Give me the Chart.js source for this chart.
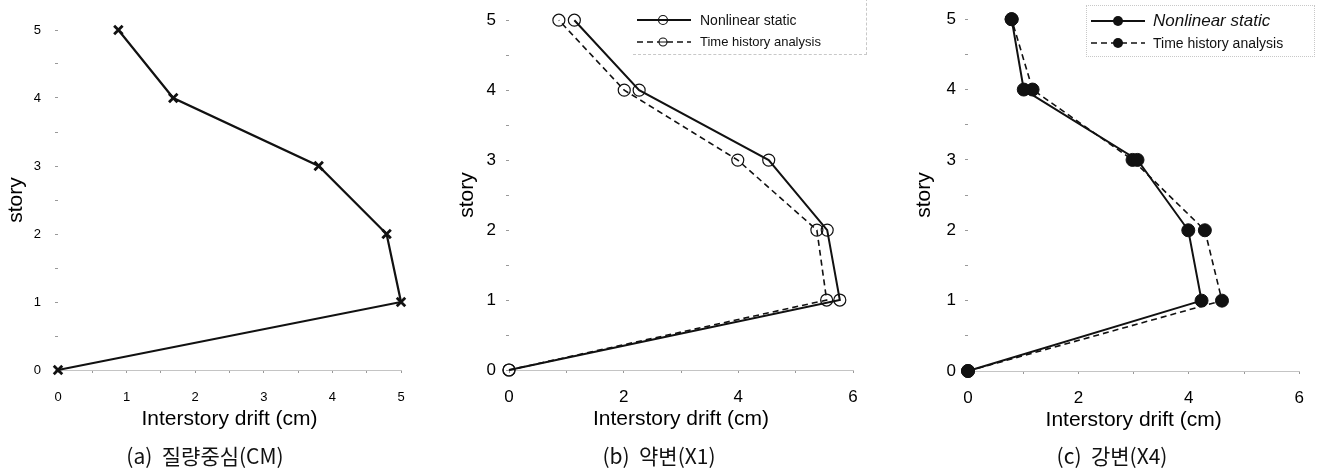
<!DOCTYPE html>
<html><head><meta charset="utf-8">
<script src="https://cdn.jsdelivr.net/npm/chart.js@4.4.1/dist/chart.umd.min.js"></script>
<style>
html,body{margin:0;padding:0;background:#fff;}
#wrap{position:relative;width:1318px;height:471px;overflow:hidden;font-family:'Liberation Sans',Arial,sans-serif;color:#111;}
canvas{position:absolute;top:0;}
.cap{position:absolute;top:440px;font-family:'Noto Sans CJK KR',sans-serif;font-size:21px;line-height:30px;white-space:pre;transform:translateX(-50%);color:#111;}
.leg{position:absolute;box-sizing:border-box;}
.row{position:absolute;left:0;height:20px;white-space:nowrap;}
.row svg{position:absolute;left:0;top:0;}
.row span{position:absolute;top:0;line-height:20px;color:#111;}
</style>
</head><body>
<div id="wrap">
  <canvas id="ca" width="440" height="471" style="left:0px"></canvas>
  <canvas id="cb" width="440" height="471" style="left:440px"></canvas>
  <canvas id="cc" width="440" height="471" style="left:878px"></canvas>

  <div class="leg" style="left:633px;top:-2px;width:234px;height:57px;border:1px dashed #c8c8c8;border-top:none;border-left:none;">
    <div class="row" style="top:12px;width:234px;">
      <svg width="60" height="20"><line x1="4" y1="10" x2="58" y2="10" stroke="#111" stroke-width="2"/><circle cx="30" cy="10" r="4.5" fill="none" stroke="#111" stroke-width="1.2"/></svg>
      <span style="left:67px;font-size:14px;">Nonlinear static</span>
    </div>
    <div class="row" style="top:34px;width:234px;">
      <svg width="60" height="20"><line x1="4" y1="10" x2="58" y2="10" stroke="#111" stroke-width="1.6" stroke-dasharray="6,4"/><circle cx="30" cy="10" r="4" fill="#fff" stroke="#111" stroke-width="1.1"/><line x1="26" y1="10" x2="34" y2="10" stroke="#111" stroke-width="1"/></svg>
      <span style="left:67px;font-size:13px;">Time history analysis</span>
    </div>
  </div>

  <div class="leg" style="left:1086px;top:5px;width:229px;height:52px;border:1px dotted #c8c8c8;">
    <div class="row" style="top:5px;width:229px;">
      <svg width="60" height="20"><line x1="4" y1="10" x2="58" y2="10" stroke="#111" stroke-width="2"/><circle cx="31" cy="10" r="5" fill="#111"/></svg>
      <span style="left:66px;font-size:17px;font-style:italic;">Nonlinear static</span>
    </div>
    <div class="row" style="top:27px;width:229px;">
      <svg width="60" height="20"><line x1="4" y1="10" x2="58" y2="10" stroke="#111" stroke-width="1.6" stroke-dasharray="6,4"/><circle cx="31" cy="10" r="5" fill="#111"/></svg>
      <span style="left:66px;font-size:14px;">Time history analysis</span>
    </div>
  </div>

  <div class="cap" style="left:205px;">(a)  질량중심(CM)</div>
  <div class="cap" style="left:659px;">(b)  약변(X1)</div>
  <div class="cap" style="left:1112px;">(c)  강변(X4)</div>
</div>
<script>
// ---- data ----
const stories = [0, 1, 2, 3, 4, 5];
const driftCM = [0, 5.00, 4.79, 3.80, 1.68, 0.88];
const driftX1Static = [0, 5.77, 5.55, 4.53, 2.27, 1.14];
const driftX1TimeHistory = [0, 5.54, 5.37, 3.99, 2.01, 0.87];
const driftX4Static = [0, 4.23, 3.99, 3.07, 1.01, 0.79];
const driftX4TimeHistory = [0, 4.60, 4.29, 2.98, 1.17, 0.79];
const storyTickLabels = ['0', '1', '2', '3', '4', '5'];
const xTickLabelsA = ['0', '1', '2', '3', '4', '5'];
const xTickLabelsBC = ['0', '2', '4', '6'];
const axisTitleX = 'Interstory drift (cm)';
const axisTitleY = 'story';

Chart.defaults.font.family = "'Liberation Sans', Arial, sans-serif";
Chart.defaults.color = '#111';

function pts(xs) { return stories.map((s, i) => ({ x: xs[i], y: s })); }

function makeChart(id, datasets, o) {
  const ink = '#000';
  return new Chart(document.getElementById(id), {
    type: 'scatter',
    data: { datasets },
    options: {
      responsive: false, animation: false,
      layout: { padding: o.pad },
      plugins: { legend: { display: false }, tooltip: { enabled: false } },
      scales: {
        x: {
          type: 'linear', min: 0, max: o.xmax,
          afterFit: s => { s.height = 66; },
          border: { display: true, color: '#c4c4c4', dash: [3, 9] },
          grid: { drawOnChartArea: false, drawTicks: true, tickLength: 3, tickColor: '#999' },
          ticks: {
            stepSize: o.xstep, autoSkip: false, maxRotation: 0, padding: o.xpad,
            font: { size: o.tickSize }, color: ink,
            callback: v => o.xlabels.includes(String(v)) ? String(v) : ''
          },
          title: { display: true, text: axisTitleX, font: { size: 21 }, color: ink, padding: { top: 2, bottom: 4 } }
        },
        y: {
          type: 'linear', min: 0, max: 5,
          afterFit: s => { s.width = o.ywidth; },
          border: { display: false },
          grid: { drawOnChartArea: false, drawTicks: true, tickLength: 3, tickColor: '#999' },
          ticks: {
            stepSize: 0.5, autoSkip: false, padding: o.ypad,
            font: { size: o.tickSize }, color: ink,
            callback: v => storyTickLabels.includes(String(v)) ? String(v) : ''
          },
          title: { display: true, text: axisTitleY, font: { size: 21 }, color: ink, padding: { top: 3, bottom: 4 } }
        }
      }
    }
  });
}

const solid = { showLine: true, borderColor: '#111', borderWidth: 2, tension: 0, clip: false, pointBorderColor: '#111' };

makeChart('ca', [
  Object.assign({}, solid, { label: 'CM', data: pts(driftCM), borderWidth: 2.2, pointStyle: 'crossRot', pointRadius: 6, pointBorderWidth: 2.8, pointBackgroundColor: '#111' })
], { pad: { left: 1, right: 39, top: 30, bottom: 35 }, ywidth: 57, xmax: 5, xstep: 0.5, xlabels: xTickLabelsA, tickSize: 13, xpad: 17, ypad: 14 });

makeChart('cb', [
  Object.assign({}, solid, { label: 'Nonlinear static', data: pts(driftX1Static), pointStyle: 'circle', pointRadius: 6, pointBorderWidth: 1.2, pointBackgroundColor: 'rgba(0,0,0,0)' }),
  Object.assign({}, solid, { label: 'Time history analysis', data: pts(driftX1TimeHistory), borderWidth: 1.6, borderDash: [6, 4], pointStyle: 'circle', pointRadius: 6, pointBorderWidth: 1.2, pointBackgroundColor: 'rgba(0,0,0,0)' })
], { pad: { left: 12, right: 27, top: 15, bottom: 35 }, ywidth: 57, xmax: 6, xstep: 1, xlabels: xTickLabelsBC, tickSize: 17, xpad: 14, ypad: 10 });

makeChart('cc', [
  Object.assign({}, solid, { label: 'Nonlinear static', data: pts(driftX4Static), pointStyle: 'circle', pointRadius: 6.5, pointBorderWidth: 1, pointBackgroundColor: '#111' }),
  Object.assign({}, solid, { label: 'Time history analysis', data: pts(driftX4TimeHistory), borderWidth: 1.6, borderDash: [6, 4], pointStyle: 'circle', pointRadius: 6.5, pointBorderWidth: 1, pointBackgroundColor: '#111' })
], { pad: { left: 31, right: 14, top: 16, bottom: 34 }, ywidth: 59, xmax: 6, xstep: 1, xlabels: xTickLabelsBC, tickSize: 17, xpad: 14, ypad: 9 });
</script>
</body></html>
